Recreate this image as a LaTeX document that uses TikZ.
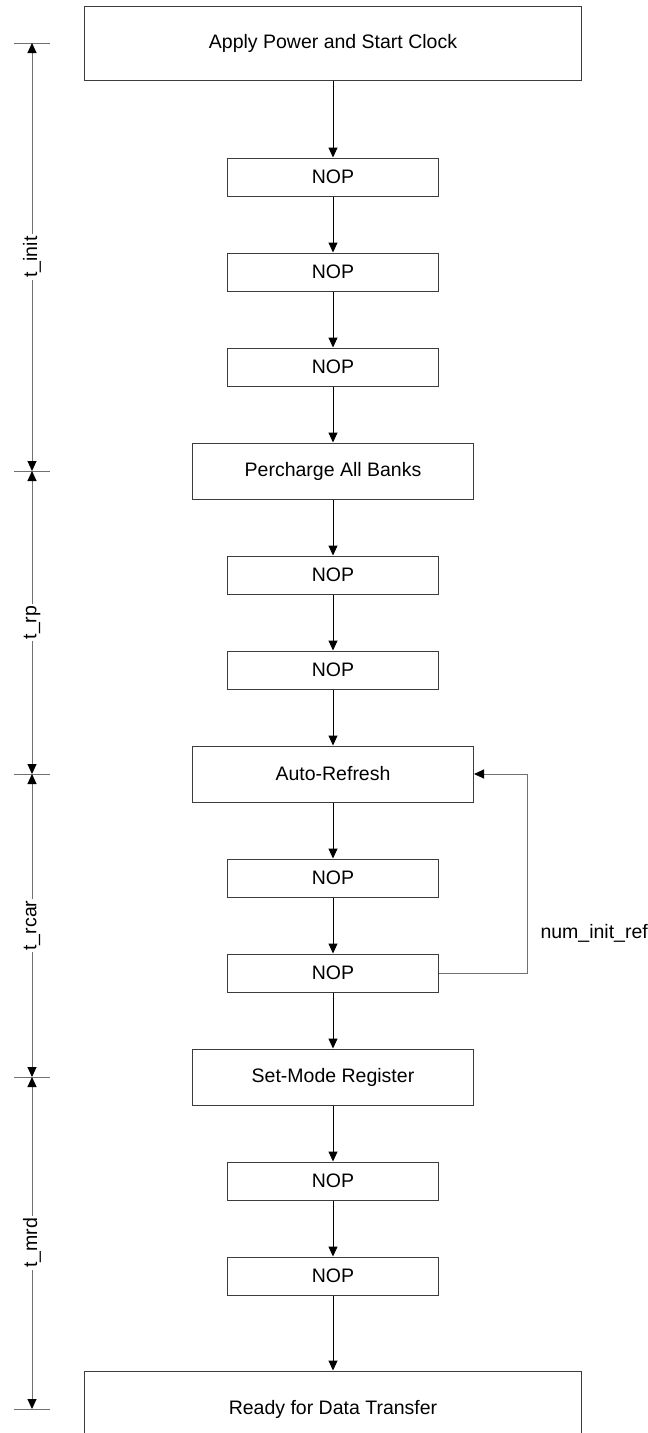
\documentclass[tikz,border=0pt]{standalone}
\usepackage{fontspec}
\setmainfont{Liberation Sans}
\usetikzlibrary{arrows.meta,positioning,calc}
\definecolor{sdedge}{HTML}{3C3C3C}
\definecolor{sdgrey}{HTML}{707070}
\tikzset{
  box/.style={draw=sdedge,line width=1pt,minimum width=211pt,minimum height=38pt,
              inner sep=0pt,font=\fontsize{19.5}{23}\selectfont},
  wide/.style={box,minimum width=281pt,minimum height=56pt},
  big/.style={box,minimum width=497pt},
  ar/.style={-{Triangle[length=10pt,width=9pt,color=black]},line width=1pt},
  dim/.style={{Triangle[length=10pt,width=9pt,color=black]}-{Triangle[length=10pt,width=9pt,color=black]},
              line width=1pt,sdgrey},
  dimtick/.style={line width=1pt,sdgrey},
  dimlab/.style={fill=white,rotate=90,inner sep=2pt,text=black,font=\fontsize{19.5}{23}\selectfont},
  lab/.style={inner sep=0pt,text=black,font=\fontsize{19.5}{23}\selectfont},
}
\begin{document}
\begin{tikzpicture}[x=1pt,y=1pt,node distance=56pt]
  \useasboundingbox (0,0) rectangle (648,-1433);
  % init sequence
  \node[big,minimum height=74pt] (pwr) at (333,-43) {Apply Power and Start Clock};
  \node[box,below=77pt of pwr] (n1) {NOP};
  \node[box,below=of n1] (n2) {NOP};
  \node[box,below=of n2] (n3) {NOP};
  \node[wide,below=of n3] (pre) {Percharge All Banks};
  \node[box,below=of pre] (n4) {NOP};
  \node[box,below=of n4] (n5) {NOP};
  \node[wide,below=of n5] (ref) {Auto-Refresh};
  \node[box,below=of ref] (n6) {NOP};
  \node[box,below=of n6] (n7) {NOP};
  \node[wide,below=of n7] (smr) {Set-Mode Register};
  \node[box,below=of smr] (n8) {NOP};
  \node[box,below=of n8] (n9) {NOP};
  \node[big,minimum height=76pt,below=75pt of n9] (rdy) {Ready for Data Transfer};
  \foreach \a/\b in {pwr/n1,n1/n2,n2/n3,n3/pre,pre/n4,n4/n5,n5/ref,ref/n6,n6/n7,n7/smr,smr/n8,n8/n9,n9/rdy}
    \draw[ar] (\a) -- (\b);
  \draw[ar,sdgrey] (n7.east) -- ++(88,0) |- node[pos=0.1,right=13pt,lab]{num\_init\_ref} (ref.east);
  % timing
  \coordinate (dx) at (32,0);
  \coordinate (d0) at (dx |- pwr);
  \coordinate (d1) at (dx |- pre);
  \coordinate (d2) at (dx |- ref);
  \coordinate (d3) at (dx |- smr);
  \coordinate (d4) at (dx |- rdy);
  \foreach \d in {d0,d1,d2,d3,d4}
    \draw[dimtick] ([xshift=-18pt]\d) -- ([xshift=18pt]\d);
  \draw[dim] (d0) -- node[dimlab]{t\_init} (d1);
  \draw[dim] (d1) -- node[dimlab]{t\_rp} (d2);
  \draw[dim] (d2) -- node[dimlab]{t\_rcar} (d3);
  \draw[dim] (d3) -- node[dimlab]{t\_mrd} (d4);
\end{tikzpicture}
\end{document}
